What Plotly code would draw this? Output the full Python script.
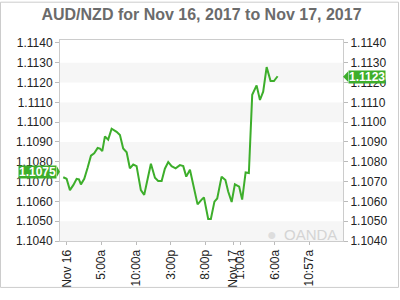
import plotly.graph_objects as go

# ---- data ----
times = [
    "2017-11-15 23:28", "2017-11-15 23:57", "2017-11-16 00:26", "2017-11-16 00:55",
    "2017-11-16 01:24", "2017-11-16 01:44", "2017-11-16 02:01", "2017-11-16 02:30",
    "2017-11-16 02:59", "2017-11-16 03:28", "2017-11-16 03:56", "2017-11-16 04:26",
    "2017-11-16 04:46", "2017-11-16 05:06", "2017-11-16 05:29", "2017-11-16 05:57",
    "2017-11-16 06:27", "2017-11-16 07:10", "2017-11-16 07:39", "2017-11-16 08:07",
    "2017-11-16 08:37", "2017-11-16 09:05", "2017-11-16 09:34", "2017-11-16 10:03",
    "2017-11-16 10:40", "2017-11-16 11:09", "2017-11-16 11:39", "2017-11-16 12:07",
    "2017-11-16 12:42", "2017-11-16 13:10", "2017-11-16 13:40", "2017-11-16 14:08",
    "2017-11-16 14:37", "2017-11-16 15:06", "2017-11-16 15:41", "2017-11-16 16:18",
    "2017-11-16 16:47", "2017-11-16 17:13", "2017-11-16 17:45", "2017-11-16 18:22",
    "2017-11-16 18:51", "2017-11-16 19:26", "2017-11-16 19:46", "2017-11-16 20:23",
    "2017-11-16 20:46", "2017-11-16 21:17", "2017-11-16 21:41", "2017-11-16 22:19",
    "2017-11-16 22:52", "2017-11-16 23:16", "2017-11-16 23:46", "2017-11-17 00:14",
    "2017-11-17 00:51", "2017-11-17 01:17", "2017-11-17 01:47", "2017-11-17 02:15",
    "2017-11-17 02:44", "2017-11-17 03:22", "2017-11-17 03:51", "2017-11-17 04:19",
    "2017-11-17 04:49", "2017-11-17 05:23", "2017-11-17 05:52", "2017-11-17 06:24",
]
prices = [
    1.10722, 1.10714, 1.10657, 1.10682, 1.10714, 1.10711, 1.10686, 1.10714,
    1.10770, 1.10831, 1.10843, 1.10870, 1.10867, 1.10854, 1.10928, 1.10912,
    1.10967, 1.10951, 1.10935, 1.10867, 1.10848, 1.10767, 1.10786, 1.10778,
    1.10657, 1.10633, 1.10714, 1.10790, 1.10719, 1.10703, 1.10703, 1.10765,
    1.10799, 1.10778, 1.10767, 1.10783, 1.10778, 1.10725, 1.10760, 1.10666,
    1.10585, 1.10609, 1.10620, 1.10511, 1.10511, 1.10599, 1.10615, 1.10725,
    1.10708, 1.10650, 1.10597, 1.10686, 1.10674, 1.10609, 1.10746, 1.10743,
    1.11138, 1.11186, 1.11112, 1.11154, 1.11278, 1.11208, 1.11208, 1.11232,
]
tick_times = ["2017-11-16 00:00", "2017-11-16 05:00", "2017-11-16 10:00",
              "2017-11-16 15:00", "2017-11-16 20:00", "2017-11-17 00:00",
              "2017-11-17 01:00", "2017-11-17 06:00", "2017-11-17 10:57"]
tick_labels = ["Nov 16", "5:00a", "10:00a", "3:00p", "8:00p", "Nov 17",
               "1:00a", "6:00a", "10:57a"]
y_ticks = [1.1040, 1.1050, 1.1060, 1.1070, 1.1080, 1.1090, 1.1100,
           1.1110, 1.1120, 1.1130, 1.1140]
y_tick_labels = ["%.4f" % v for v in y_ticks]
band_starts = [1.1040, 1.1060, 1.1080, 1.1100, 1.1120]
band_width = 0.0010
open_price = 1.1075
last_price = 1.1123
title = "AUD/NZD for Nov 16, 2017 to Nov 17, 2017"

# ---- style ----
GREEN = "#3dae2b"
FONT = "Liberation Sans, Arial, sans-serif"
Y_RANGE = [1.1040, 1.11415]
X_RANGE = ["2017-11-15 23:00", "2017-11-17 15:50"]
ML, MR, MT, MB = 60, 57, 40, 50
PW, PH = 400 - ML - MR, 300 - MT - MB

fig = go.Figure()
fig.add_trace(go.Scatter(x=times, y=prices, mode="lines",
                         line=dict(color=GREEN, width=2), hoverinfo="skip",
                         showlegend=False))
fig.add_trace(go.Scatter(x=times, y=prices, mode="lines", yaxis="y2",
                         line=dict(color=GREEN, width=0), opacity=0,
                         hoverinfo="skip", showlegend=False))

shapes = []
for b in band_starts:
    shapes.append(dict(type="rect", xref="paper", yref="y", x0=0, x1=1,
                       y0=b, y1=min(b + band_width, Y_RANGE[1]),
                       fillcolor="#f6f6f6", line=dict(width=0), layer="below"))
# outer border of the whole image
shapes.append(dict(type="rect", xref="paper", yref="paper",
                   x0=-(ML - 0.5) / PW, x1=1 + (MR - 1.5) / PW,
                   y0=-(MB - 1.5) / PH, y1=1 + (MT - 0.5) / PH,
                   line=dict(color="#cccccc", width=1), fillcolor="rgba(0,0,0,0)"))

# badge arrows
dy = 0.00026
shapes.append(dict(type="path", xref="paper", yref="y",
                   path=f"M {-3/PW},{open_price+dy} L {0},{open_price} L {-3/PW},{open_price-dy} Z",
                   fillcolor=GREEN, line=dict(width=0)))
shapes.append(dict(type="path", xref="paper", yref="y",
                   path=f"M {1+5/PW},{last_price+dy} L {1},{last_price} L {1+5/PW},{last_price-dy} Z",
                   fillcolor=GREEN, line=dict(width=0)))

annotations = [
    dict(xref="paper", yref="y", x=-3 / PW, y=open_price, xanchor="right",
         yanchor="middle", text="<b>1.1075</b>", showarrow=False,
         bgcolor=GREEN, font=dict(color="white", size=12, family=FONT),
         borderpad=0, height=12),
    dict(xref="paper", yref="y", x=1 + 5 / PW, y=last_price, xanchor="left",
         yanchor="middle", text="<b>1.1123</b>", showarrow=False,
         bgcolor=GREEN, font=dict(color="white", size=12, family=FONT),
         borderpad=0, height=12),
    dict(xref="paper", yref="paper", x=1 - 4 / PW, y=7 / PH, xanchor="right",
         yanchor="middle", text="OANDA", showarrow=False,
         font=dict(color="#d4d4d4", size=15, family=FONT)),
    dict(xref="paper", yref="paper", x=1 - 64 / PW, y=7 / PH, xanchor="right",
         yanchor="middle", text="●", showarrow=False,
         font=dict(color="#dddddd", size=16, family=FONT)),
]

axis_common = dict(range=Y_RANGE, tickvals=y_ticks, ticktext=y_tick_labels,
                   showgrid=False, zeroline=False, ticks="outside", ticklen=4,
                   tickcolor="#bbbbbb", tickfont=dict(size=12, color="#222222", family=FONT))

fig.update_layout(
    width=400, height=300,
    margin=dict(l=ML, r=MR, t=MT, b=MB),
    paper_bgcolor="white", plot_bgcolor="white",
    title=dict(text="<b>" + title + "</b>", x=0.5, xref="paper", xanchor="center",
               y=1 - 14 / 300, yref="container", yanchor="middle",
               font=dict(size=16, color="#6b6b6b", family=FONT)),
    xaxis=dict(range=X_RANGE, type="date", tickvals=tick_times, ticktext=tick_labels,
               tickangle=-90, showgrid=False, zeroline=False, ticks="outside",
               ticklen=3, tickcolor="#bbbbbb", showline=True, linecolor="#cccccc",
               mirror=True, tickfont=dict(size=12, color="#222222", family=FONT)),
    yaxis=dict(side="left", showline=True, linecolor="#cccccc", mirror=True, **axis_common),
    yaxis2=dict(side="right", overlaying="y", showline=False, **axis_common),
    shapes=shapes, annotations=annotations, showlegend=False,
)

fig.write_html("out.html")
